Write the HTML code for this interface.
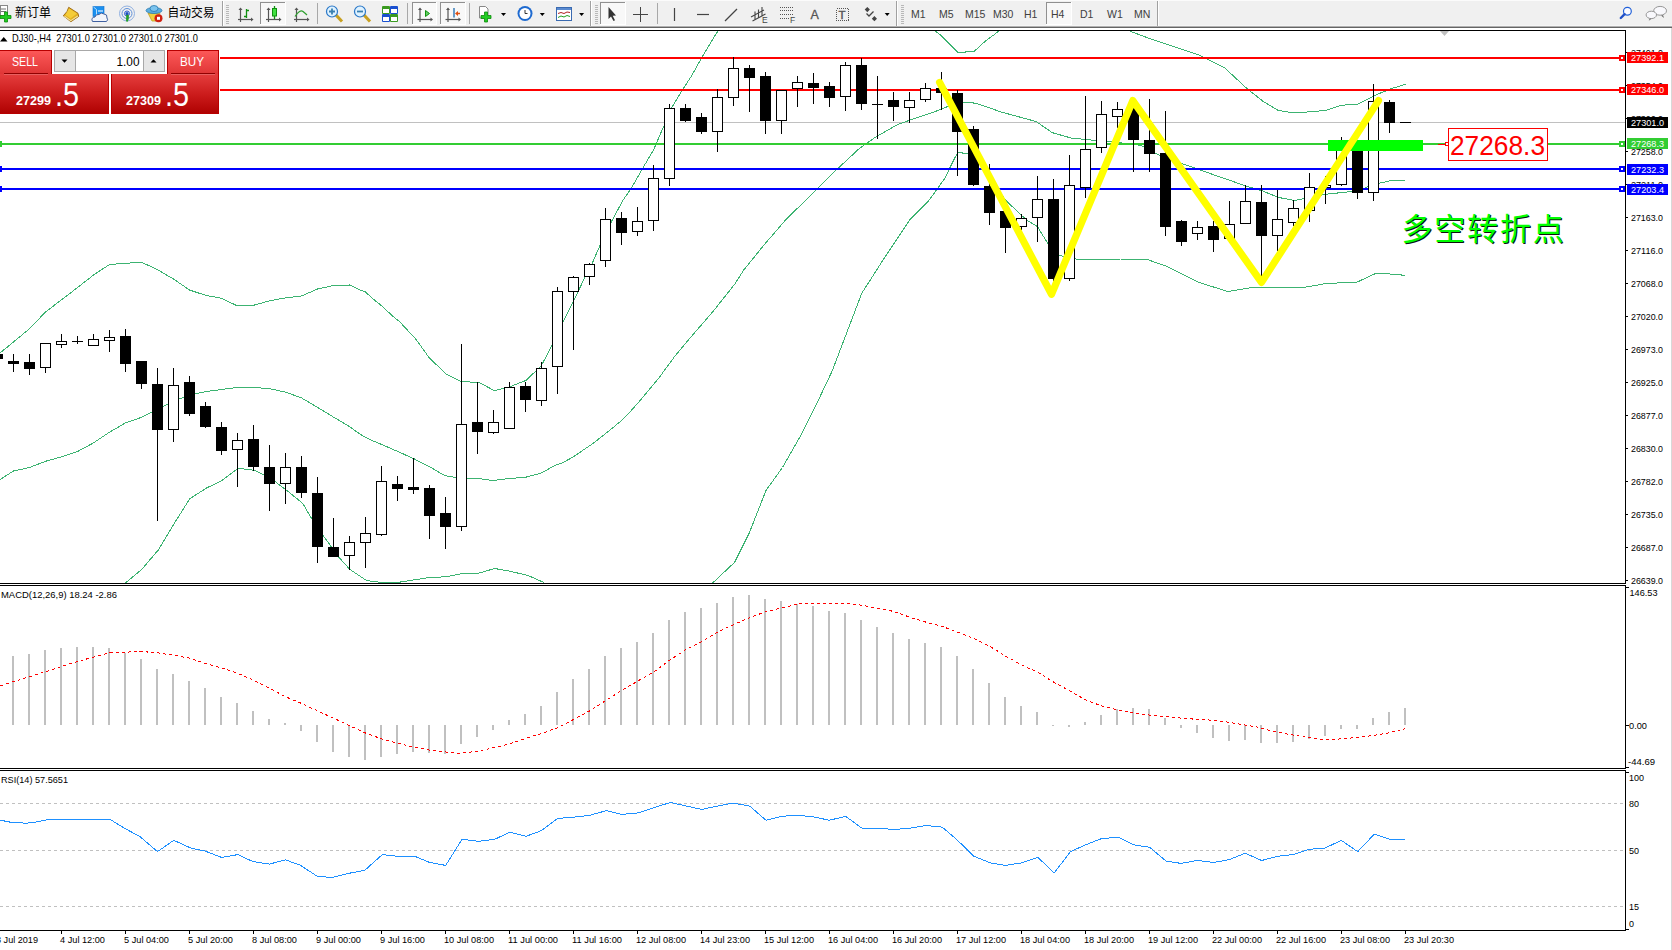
<!DOCTYPE html>
<html><head><meta charset="utf-8"><title>DJ30-,H4</title>
<style>html,body{margin:0;padding:0;background:#fff;}body{width:1672px;height:950px;overflow:hidden;position:relative;}svg{display:block;position:absolute;left:0;top:0;}text{font-family:"Liberation Sans", Arial, sans-serif;}</style>
</head><body>
<svg width="1672" height="950" viewBox="0 0 1672 950">
<defs><clipPath id="cmain"><rect x="0" y="31" width="1625" height="552"/></clipPath><clipPath id="cmacd"><rect x="0" y="586" width="1625" height="182"/></clipPath><clipPath id="crsi"><rect x="0" y="771" width="1625" height="159"/></clipPath><linearGradient id="gTop" gradientUnits="userSpaceOnUse" x1="0" y1="51" x2="0" y2="74"><stop offset="0" stop-color="#fc5858"/><stop offset="1" stop-color="#e03636"/></linearGradient><linearGradient id="gBot" gradientUnits="userSpaceOnUse" x1="0" y1="75" x2="0" y2="113"><stop offset="0" stop-color="#e43c3c"/><stop offset="0.5" stop-color="#cc1c1c"/><stop offset="1" stop-color="#b00202"/></linearGradient><linearGradient id="gBtn" x1="0" y1="0" x2="0" y2="1"><stop offset="0" stop-color="#f4f4f4"/><stop offset="1" stop-color="#dcdcdc"/></linearGradient></defs>
<rect x="0" y="0" width="1672" height="950" fill="#ffffff"/>
<g shape-rendering="crispEdges">
<path d="M0 30.5H1625.5V583.5H0" fill="none" stroke="#000" stroke-width="1"/>
<path d="M0 585.5H1625.5V768.5H0" fill="none" stroke="#000" stroke-width="1"/>
<path d="M0 770.5H1625.5V930.5H0" fill="none" stroke="#000" stroke-width="1"/>
<rect x="1671" y="27" width="1" height="923" fill="#d8d8d8"/>
</g>
<g clip-path="url(#cmain)">
<rect x="0" y="122" width="1625" height="1" fill="#c0c0c0" shape-rendering="crispEdges"/>
<polyline points="-2.5,355.0 13.5,342.0 29.5,328.7 45.5,312.0 61.5,299.8 77.5,287.6 93.5,275.0 109.5,264.5 125.5,263.3 141.5,262.2 157.5,269.7 173.5,279.0 189.5,290.0 205.5,295.3 221.5,298.2 237.5,306.0 253.5,305.3 269.5,300.8 285.5,297.9 301.5,296.0 317.5,289.0 333.5,285.5 349.5,285.0 360.5,290.1 365.5,292.0 373.1,299.0 379.5,304.0 385.8,309.7 393.3,316.6 399.7,321.7 406.0,328.6 415.5,338.7 422.4,348.2 428.7,357.1 436.3,364.6 446.4,374.1 461.5,381.7 478.6,382.3 494.4,390.6 509.6,386.8 526.0,380.4 541.2,365.9 552.5,344.4 563.9,320.4 574.2,299.5 585.2,276.8 592.1,263.7 600.5,244.2 611.5,221.6 623.1,200.0 631.5,188.0 642.9,168.0 653.7,149.5 664.4,124.8 672.0,107.1 682.7,89.4 691.0,76.8 701.7,57.8 709.9,43.9 718.1,30.6 722.5,23.0" fill="none" stroke="#3cb371" stroke-width="1" shape-rendering="crispEdges"/>
<polyline points="925.5,22.0 934.9,30.7 939.6,34.3 957.6,52.2 965.4,52.2 966.0,51.3 974.3,51.3 978.5,47.4 986.3,40.3 991.7,36.4 994.7,34.3 998.8,31.0 1004.5,24.0" fill="none" stroke="#3cb371" stroke-width="1" shape-rendering="crispEdges"/>
<polyline points="1122.5,24.0 1131.0,31.6 1152.1,39.5 1171.0,45.8 1199.5,55.3 1224.7,67.9 1246.8,88.4 1262.6,101.0 1278.4,110.5 1294.2,113.0 1325.8,110.5 1341.5,105.2 1357.3,104.2 1376.3,94.7 1392.1,88.4 1405.5,84.3" fill="none" stroke="#3cb371" stroke-width="1" shape-rendering="crispEdges"/>
<polyline points="-2.5,481.2 13.5,471.0 29.5,467.5 45.5,461.3 61.5,456.8 77.5,451.5 93.5,442.9 109.5,432.2 125.5,422.9 141.5,417.3 157.5,409.3 173.5,401.0 189.5,395.3 205.5,391.6 221.5,389.5 237.5,387.4 253.5,387.4 269.5,388.7 285.5,392.1 301.5,397.9 317.5,407.4 333.5,417.1 348.8,426.2 362.5,435.8 372.1,440.6 381.8,444.5 399.6,452.3 413.4,458.5 428.5,466.1 445.0,475.7 456.0,477.5 478.0,478.5 493.2,480.5 505.6,478.9 526.2,477.1 541.3,473.0 555.1,465.4 561.2,463.4 572.3,457.5 582.6,450.5 592.9,443.5 604.7,434.3 614.3,426.5 622.6,419.6 630.1,411.8 640.7,399.8 659.2,377.5 674.4,356.8 688.3,340.0 712.6,312.0 734.7,284.2 743.9,269.8 764.4,244.5 786.3,219.2 800.5,205.3 818.4,187.9 837.3,169.0 859.4,148.4 875.2,137.4 897.3,124.7 916.3,117.8 935.2,111.5 951.0,105.2 963.7,102.0 976.3,103.3 1001.5,112.1 1036.3,121.6 1052.1,132.6 1071.0,138.0 1096.3,140.5 1115.2,142.1 1140.5,145.3 1158.4,154.7 1183.7,164.2 1215.2,175.3 1246.8,186.3 1262.6,191.0 1278.4,197.4 1294.2,200.5 1310.0,197.4 1325.8,194.2 1341.5,192.6 1357.3,191.0 1373.1,184.7 1388.9,181.0 1405.5,180.0" fill="none" stroke="#3cb371" stroke-width="1" shape-rendering="crispEdges"/>
<polyline points="120.5,590.0 125.5,583.0 141.8,569.3 158.3,550.0 174.8,522.5 189.9,498.6 206.4,488.1 221.5,480.7 238.1,468.3 254.5,470.3 271.1,478.5 287.5,491.0 302.7,503.3 312.3,519.8 324.7,537.7 338.9,557.3 349.9,569.5 365.7,579.9 370.6,581.1 378.4,582.1 399.9,582.1 409.7,580.5 420.5,579.0 428.5,577.5 446.4,576.8 464.3,573.2 478.6,573.2 494.7,568.5 510.8,571.4 528.7,575.7 543.0,582.1 548.5,590.0" fill="none" stroke="#3cb371" stroke-width="1" shape-rendering="crispEdges"/>
<polyline points="705.5,590.0 713.3,582.4 734.7,562.2 749.4,532.7 766.0,490.4 782.5,467.5 801.0,435.1 817.5,402.0 832.3,370.7 847.0,332.0 861.7,293.4 884.7,257.4 910.0,219.5 928.9,200.5 944.7,178.4 955.5,156.4 958.5,152.4 962.1,152.4 962.9,153.5 973.5,153.5 989.5,178.4 1006.4,201.0 1021.5,215.3 1028.3,221.2 1037.5,226.6 1048.5,244.7 1059.4,255.3 1064.5,256.5 1075.5,259.0 1096.3,259.9 1120.5,259.0 1145.8,259.0 1167.9,266.8 1199.5,282.6 1227.9,291.5 1253.1,287.4 1278.4,287.4 1303.7,287.4 1325.8,283.6 1357.3,282.0 1376.3,273.2 1392.1,274.1 1405.5,275.4" fill="none" stroke="#3cb371" stroke-width="1" shape-rendering="crispEdges"/>
<g shape-rendering="crispEdges">
<rect x="0" y="57" width="1620" height="2" fill="#ff0000"/>
<rect x="0" y="55" width="2" height="6" fill="#ff0000"/>
<rect x="1619" y="55" width="6" height="6" fill="#ff0000"/><rect x="1621" y="57" width="2" height="2" fill="#fff"/>
<rect x="0" y="89" width="1620" height="2" fill="#ff0000"/>
<rect x="0" y="87" width="2" height="6" fill="#ff0000"/>
<rect x="1619" y="87" width="6" height="6" fill="#ff0000"/><rect x="1621" y="89" width="2" height="2" fill="#fff"/>
<rect x="0" y="143" width="1620" height="2" fill="#32cd32"/>
<rect x="0" y="141" width="2" height="6" fill="#32cd32"/>
<rect x="1619" y="141" width="6" height="6" fill="#32cd32"/><rect x="1621" y="143" width="2" height="2" fill="#fff"/>
<rect x="0" y="168" width="1620" height="2" fill="#0000ff"/>
<rect x="0" y="166" width="2" height="6" fill="#0000ff"/>
<rect x="1619" y="166" width="6" height="6" fill="#0000ff"/><rect x="1621" y="168" width="2" height="2" fill="#fff"/>
<rect x="0" y="188" width="1620" height="2" fill="#0000ff"/>
<rect x="0" y="186" width="2" height="6" fill="#0000ff"/>
<rect x="1619" y="186" width="6" height="6" fill="#0000ff"/><rect x="1621" y="188" width="2" height="2" fill="#fff"/>
</g>
<g shape-rendering="crispEdges" fill="#000">
<rect x="-3" y="350" width="1" height="13"/>
<rect x="-8" y="354" width="11" height="5"/>
<rect x="13" y="354" width="1" height="18"/>
<rect x="8" y="361" width="11" height="3"/>
<rect x="29" y="354" width="1" height="21"/>
<rect x="24" y="362" width="11" height="7"/>
<rect x="45" y="343" width="1" height="30"/>
<rect x="40" y="343" width="11" height="25"/>
<rect x="41" y="344" width="9" height="23" fill="#fff"/>
<rect x="61" y="334" width="1" height="14"/>
<rect x="56" y="341" width="11" height="4"/>
<rect x="57" y="342" width="9" height="2" fill="#fff"/>
<rect x="77" y="336" width="1" height="8"/>
<rect x="72" y="341" width="11" height="1"/>
<rect x="93" y="334" width="1" height="12"/>
<rect x="88" y="339" width="11" height="7"/>
<rect x="89" y="340" width="9" height="5" fill="#fff"/>
<rect x="109" y="330" width="1" height="22"/>
<rect x="104" y="337" width="11" height="4"/>
<rect x="105" y="338" width="9" height="2" fill="#fff"/>
<rect x="125" y="329" width="1" height="43"/>
<rect x="120" y="336" width="11" height="28"/>
<rect x="141" y="361" width="1" height="28"/>
<rect x="136" y="361" width="11" height="23"/>
<rect x="157" y="368" width="1" height="153"/>
<rect x="152" y="384" width="11" height="46"/>
<rect x="173" y="368" width="1" height="74"/>
<rect x="168" y="385" width="11" height="45"/>
<rect x="169" y="386" width="9" height="43" fill="#fff"/>
<rect x="189" y="376" width="1" height="40"/>
<rect x="184" y="382" width="11" height="32"/>
<rect x="205" y="402" width="1" height="26"/>
<rect x="200" y="406" width="11" height="21"/>
<rect x="221" y="422" width="1" height="33"/>
<rect x="216" y="427" width="11" height="24"/>
<rect x="237" y="433" width="1" height="54"/>
<rect x="232" y="440" width="11" height="10"/>
<rect x="233" y="441" width="9" height="8" fill="#fff"/>
<rect x="253" y="425" width="1" height="46"/>
<rect x="248" y="439" width="11" height="28"/>
<rect x="269" y="445" width="1" height="66"/>
<rect x="264" y="467" width="11" height="17"/>
<rect x="285" y="453" width="1" height="51"/>
<rect x="280" y="467" width="11" height="17"/>
<rect x="281" y="468" width="9" height="15" fill="#fff"/>
<rect x="301" y="456" width="1" height="42"/>
<rect x="296" y="467" width="11" height="26"/>
<rect x="317" y="477" width="1" height="86"/>
<rect x="312" y="493" width="11" height="54"/>
<rect x="333" y="518" width="1" height="39"/>
<rect x="328" y="547" width="11" height="10"/>
<rect x="349" y="536" width="1" height="34"/>
<rect x="344" y="542" width="11" height="14"/>
<rect x="345" y="543" width="9" height="12" fill="#fff"/>
<rect x="365" y="517" width="1" height="51"/>
<rect x="360" y="533" width="11" height="10"/>
<rect x="361" y="534" width="9" height="8" fill="#fff"/>
<rect x="381" y="466" width="1" height="70"/>
<rect x="376" y="481" width="11" height="54"/>
<rect x="377" y="482" width="9" height="52" fill="#fff"/>
<rect x="397" y="476" width="1" height="25"/>
<rect x="392" y="484" width="11" height="5"/>
<rect x="413" y="458" width="1" height="36"/>
<rect x="408" y="487" width="11" height="3"/>
<rect x="429" y="485" width="1" height="54"/>
<rect x="424" y="488" width="11" height="28"/>
<rect x="445" y="497" width="1" height="52"/>
<rect x="440" y="513" width="11" height="14"/>
<rect x="461" y="344" width="1" height="187"/>
<rect x="456" y="424" width="11" height="103"/>
<rect x="457" y="425" width="9" height="101" fill="#fff"/>
<rect x="477" y="382" width="1" height="72"/>
<rect x="472" y="422" width="11" height="10"/>
<rect x="493" y="410" width="1" height="24"/>
<rect x="488" y="422" width="11" height="11"/>
<rect x="489" y="423" width="9" height="9" fill="#fff"/>
<rect x="509" y="382" width="1" height="47"/>
<rect x="504" y="387" width="11" height="42"/>
<rect x="505" y="388" width="9" height="40" fill="#fff"/>
<rect x="525" y="382" width="1" height="30"/>
<rect x="520" y="386" width="11" height="14"/>
<rect x="541" y="362" width="1" height="44"/>
<rect x="536" y="368" width="11" height="33"/>
<rect x="537" y="369" width="9" height="31" fill="#fff"/>
<rect x="557" y="287" width="1" height="107"/>
<rect x="552" y="291" width="11" height="76"/>
<rect x="553" y="292" width="9" height="74" fill="#fff"/>
<rect x="573" y="276" width="1" height="74"/>
<rect x="568" y="277" width="11" height="15"/>
<rect x="569" y="278" width="9" height="13" fill="#fff"/>
<rect x="589" y="263" width="1" height="22"/>
<rect x="584" y="264" width="11" height="13"/>
<rect x="585" y="265" width="9" height="11" fill="#fff"/>
<rect x="605" y="208" width="1" height="59"/>
<rect x="600" y="219" width="11" height="42"/>
<rect x="601" y="220" width="9" height="40" fill="#fff"/>
<rect x="621" y="212" width="1" height="33"/>
<rect x="616" y="218" width="11" height="15"/>
<rect x="637" y="207" width="1" height="29"/>
<rect x="632" y="221" width="11" height="11"/>
<rect x="633" y="222" width="9" height="9" fill="#fff"/>
<rect x="653" y="165" width="1" height="66"/>
<rect x="648" y="178" width="11" height="43"/>
<rect x="649" y="179" width="9" height="41" fill="#fff"/>
<rect x="669" y="104" width="1" height="82"/>
<rect x="664" y="108" width="11" height="71"/>
<rect x="665" y="109" width="9" height="69" fill="#fff"/>
<rect x="685" y="104" width="1" height="18"/>
<rect x="680" y="108" width="11" height="13"/>
<rect x="701" y="113" width="1" height="21"/>
<rect x="696" y="117" width="11" height="15"/>
<rect x="717" y="89" width="1" height="63"/>
<rect x="712" y="97" width="11" height="35"/>
<rect x="713" y="98" width="9" height="33" fill="#fff"/>
<rect x="733" y="57" width="1" height="49"/>
<rect x="728" y="68" width="11" height="30"/>
<rect x="729" y="69" width="9" height="28" fill="#fff"/>
<rect x="749" y="65" width="1" height="47"/>
<rect x="744" y="68" width="11" height="10"/>
<rect x="765" y="72" width="1" height="62"/>
<rect x="760" y="76" width="11" height="45"/>
<rect x="781" y="90" width="1" height="44"/>
<rect x="776" y="90" width="11" height="31"/>
<rect x="777" y="91" width="9" height="29" fill="#fff"/>
<rect x="797" y="76" width="1" height="31"/>
<rect x="792" y="82" width="11" height="7"/>
<rect x="793" y="83" width="9" height="5" fill="#fff"/>
<rect x="813" y="73" width="1" height="31"/>
<rect x="808" y="83" width="11" height="5"/>
<rect x="829" y="82" width="1" height="25"/>
<rect x="824" y="86" width="11" height="12"/>
<rect x="845" y="62" width="1" height="49"/>
<rect x="840" y="65" width="11" height="32"/>
<rect x="841" y="66" width="9" height="30" fill="#fff"/>
<rect x="861" y="58" width="1" height="52"/>
<rect x="856" y="65" width="11" height="39"/>
<rect x="877" y="76" width="1" height="63"/>
<rect x="872" y="104" width="11" height="1"/>
<rect x="893" y="92" width="1" height="29"/>
<rect x="888" y="100" width="11" height="7"/>
<rect x="909" y="92" width="1" height="31"/>
<rect x="904" y="100" width="11" height="8"/>
<rect x="905" y="101" width="9" height="6" fill="#fff"/>
<rect x="925" y="83" width="1" height="19"/>
<rect x="920" y="88" width="11" height="12"/>
<rect x="921" y="89" width="9" height="10" fill="#fff"/>
<rect x="941" y="72" width="1" height="38"/>
<rect x="936" y="88" width="11" height="5"/>
<rect x="957" y="90" width="1" height="86"/>
<rect x="952" y="93" width="11" height="39"/>
<rect x="973" y="126" width="1" height="60"/>
<rect x="968" y="129" width="11" height="56"/>
<rect x="989" y="164" width="1" height="61"/>
<rect x="984" y="186" width="11" height="27"/>
<rect x="1005" y="211" width="1" height="42"/>
<rect x="1000" y="211" width="11" height="17"/>
<rect x="1021" y="214" width="1" height="16"/>
<rect x="1016" y="218" width="11" height="9"/>
<rect x="1017" y="219" width="9" height="7" fill="#fff"/>
<rect x="1037" y="176" width="1" height="66"/>
<rect x="1032" y="199" width="11" height="19"/>
<rect x="1033" y="200" width="9" height="17" fill="#fff"/>
<rect x="1053" y="179" width="1" height="102"/>
<rect x="1048" y="199" width="11" height="80"/>
<rect x="1069" y="155" width="1" height="126"/>
<rect x="1064" y="185" width="11" height="94"/>
<rect x="1065" y="186" width="9" height="92" fill="#fff"/>
<rect x="1085" y="96" width="1" height="102"/>
<rect x="1080" y="149" width="11" height="39"/>
<rect x="1081" y="150" width="9" height="37" fill="#fff"/>
<rect x="1101" y="101" width="1" height="52"/>
<rect x="1096" y="114" width="11" height="34"/>
<rect x="1097" y="115" width="9" height="32" fill="#fff"/>
<rect x="1117" y="102" width="1" height="26"/>
<rect x="1112" y="109" width="11" height="8"/>
<rect x="1113" y="110" width="9" height="6" fill="#fff"/>
<rect x="1133" y="100" width="1" height="72"/>
<rect x="1128" y="108" width="11" height="32"/>
<rect x="1149" y="99" width="1" height="73"/>
<rect x="1144" y="140" width="11" height="14"/>
<rect x="1165" y="111" width="1" height="125"/>
<rect x="1160" y="153" width="11" height="74"/>
<rect x="1181" y="220" width="1" height="26"/>
<rect x="1176" y="221" width="11" height="21"/>
<rect x="1197" y="221" width="1" height="19"/>
<rect x="1192" y="227" width="11" height="7"/>
<rect x="1193" y="228" width="9" height="5" fill="#fff"/>
<rect x="1213" y="221" width="1" height="31"/>
<rect x="1208" y="226" width="11" height="14"/>
<rect x="1229" y="201" width="1" height="42"/>
<rect x="1224" y="224" width="11" height="15"/>
<rect x="1225" y="225" width="9" height="13" fill="#fff"/>
<rect x="1245" y="185" width="1" height="39"/>
<rect x="1240" y="201" width="11" height="23"/>
<rect x="1241" y="202" width="9" height="21" fill="#fff"/>
<rect x="1261" y="185" width="1" height="91"/>
<rect x="1256" y="202" width="11" height="34"/>
<rect x="1277" y="190" width="1" height="61"/>
<rect x="1272" y="219" width="11" height="17"/>
<rect x="1273" y="220" width="9" height="15" fill="#fff"/>
<rect x="1293" y="200" width="1" height="26"/>
<rect x="1288" y="208" width="11" height="15"/>
<rect x="1289" y="209" width="9" height="13" fill="#fff"/>
<rect x="1309" y="173" width="1" height="49"/>
<rect x="1304" y="187" width="11" height="24"/>
<rect x="1305" y="188" width="9" height="22" fill="#fff"/>
<rect x="1325" y="176" width="1" height="28"/>
<rect x="1320" y="185" width="11" height="3"/>
<rect x="1321" y="186" width="9" height="1" fill="#fff"/>
<rect x="1341" y="137" width="1" height="49"/>
<rect x="1336" y="147" width="11" height="38"/>
<rect x="1337" y="148" width="9" height="36" fill="#fff"/>
<rect x="1357" y="143" width="1" height="56"/>
<rect x="1352" y="145" width="11" height="48"/>
<rect x="1373" y="84" width="1" height="117"/>
<rect x="1368" y="101" width="11" height="92"/>
<rect x="1369" y="102" width="9" height="90" fill="#fff"/>
<rect x="1389" y="100" width="1" height="33"/>
<rect x="1384" y="102" width="11" height="21"/>
<rect x="1400" y="122" width="11" height="1"/>
</g>
<rect x="1328" y="140" width="95" height="11" fill="#00ff00" shape-rendering="crispEdges"/>
<polyline points="939.6,82.4 1051.5,294.3 1132.8,100.6 1261.5,282.4 1378.5,100.6" fill="none" stroke="#ffff00" stroke-width="7.2" stroke-linejoin="round" stroke-linecap="round"/>
<g shape-rendering="crispEdges"><rect x="1438" y="144" width="8" height="1" fill="#ff0000"/><rect x="1445" y="142" width="4" height="4" fill="#ff0000"/><rect x="1446" y="143" width="2" height="2" fill="#fff"/><rect x="1448.5" y="128.5" width="99" height="32" fill="#fff" stroke="#ff0000" stroke-width="1"/></g>
<text x="1450" y="155" font-size="28" fill="#ff0000" textLength="95" lengthAdjust="spacingAndGlyphs">27268.3</text>
<text x="1402.5" y="241" font-size="31" letter-spacing="1.8" font-weight="400" fill="#101010" style="font-family:'Liberation Sans','Noto Sans CJK SC',sans-serif">多空转折点</text>
<text x="1401.5" y="240" font-size="31" letter-spacing="1.8" font-weight="400" fill="#00ff00" style="font-family:'Liberation Sans','Noto Sans CJK SC',sans-serif">多空转折点</text>
</g>
<path d="M1440 31 H1449 L1444.5 36 Z" fill="#c0c0c0"/>
<path d="M0 41.5 L3.75 37 L7.5 41.5Z" fill="#000"/>
<text x="12" y="42" font-size="10.5" fill="#000" textLength="186" lengthAdjust="spacingAndGlyphs">DJ30-,H4&#160;&#160;27301.0 27301.0 27301.0 27301.0</text>
<g shape-rendering="crispEdges">
<rect x="0" y="49" width="220" height="66" fill="#fff"/>
<path d="M0 50H52V74H109V114H0Z" fill="#b80000"/>
<rect x="0" y="51" width="51" height="23" fill="url(#gTop)"/>
<path d="M167 50H219V114H111V74H167Z" fill="#b80000"/>
<rect x="168" y="51" width="50" height="23" fill="url(#gTop)"/>
<rect x="0" y="74" width="108" height="39" fill="url(#gBot)"/>
<rect x="112" y="74" width="106" height="39" fill="url(#gBot)"/>
<rect x="1" y="51" width="50" height="23" fill="url(#gTop)"/>
<rect x="168" y="51" width="50" height="23" fill="url(#gTop)"/>
<rect x="4" y="73" width="44" height="1" fill="#900000"/><rect x="4" y="74" width="44" height="1" fill="#e86060"/>
<rect x="171" y="73" width="44" height="1" fill="#900000"/><rect x="171" y="74" width="44" height="1" fill="#e86060"/>
<rect x="54" y="50" width="111" height="22" fill="#a8a8a8"/>
<rect x="55" y="51" width="20" height="20" fill="#e6e6e6"/>
<rect x="76" y="51" width="67" height="20" fill="#fff"/>
<rect x="144" y="51" width="20" height="20" fill="#e6e6e6"/>
</g>
<path d="M61.5 59.5h6l-3 3.2z" fill="#000"/>
<path d="M150.5 62.5h6l-3 -3.2z" fill="#000"/>
<text x="139.5" y="65.5" font-size="13" fill="#000" text-anchor="end" textLength="23" lengthAdjust="spacingAndGlyphs">1.00</text>
<text x="12" y="66" font-size="13" fill="#fff" textLength="26" lengthAdjust="spacingAndGlyphs">SELL</text>
<text x="180" y="66" font-size="13" fill="#fff" textLength="24" lengthAdjust="spacingAndGlyphs">BUY</text>
<text x="16" y="105" font-size="13" font-weight="bold" fill="#fff" textLength="35" lengthAdjust="spacingAndGlyphs">27299</text>
<text x="55" y="105.5" font-size="33" fill="#fff" textLength="24" lengthAdjust="spacingAndGlyphs">.5</text>
<text x="126" y="105" font-size="13" font-weight="bold" fill="#fff" textLength="35" lengthAdjust="spacingAndGlyphs">27309</text>
<text x="165" y="105.5" font-size="33" fill="#fff" textLength="24" lengthAdjust="spacingAndGlyphs">.5</text>
<g shape-rendering="crispEdges">
<rect x="1626" y="52" width="2" height="1" fill="#000"/>
<rect x="1626" y="85" width="2" height="1" fill="#000"/>
<rect x="1626" y="118" width="2" height="1" fill="#000"/>
<rect x="1626" y="151" width="2" height="1" fill="#000"/>
<rect x="1626" y="184" width="2" height="1" fill="#000"/>
<rect x="1626" y="217" width="2" height="1" fill="#000"/>
<rect x="1626" y="250" width="2" height="1" fill="#000"/>
<rect x="1626" y="283" width="2" height="1" fill="#000"/>
<rect x="1626" y="316" width="2" height="1" fill="#000"/>
<rect x="1626" y="349" width="2" height="1" fill="#000"/>
<rect x="1626" y="382" width="2" height="1" fill="#000"/>
<rect x="1626" y="415" width="2" height="1" fill="#000"/>
<rect x="1626" y="448" width="2" height="1" fill="#000"/>
<rect x="1626" y="481" width="2" height="1" fill="#000"/>
<rect x="1626" y="514" width="2" height="1" fill="#000"/>
<rect x="1626" y="547" width="2" height="1" fill="#000"/>
<rect x="1626" y="580" width="2" height="1" fill="#000"/>
</g>
<text x="1631" y="56.0" font-size="9.6" fill="#000" textLength="32" lengthAdjust="spacingAndGlyphs">27401.0</text>
<text x="1631" y="89.0" font-size="9.6" fill="#000" textLength="32" lengthAdjust="spacingAndGlyphs">27354.0</text>
<text x="1631" y="122.0" font-size="9.6" fill="#000" textLength="32" lengthAdjust="spacingAndGlyphs">27306.0</text>
<text x="1631" y="155.0" font-size="9.6" fill="#000" textLength="32" lengthAdjust="spacingAndGlyphs">27258.0</text>
<text x="1631" y="188.0" font-size="9.6" fill="#000" textLength="32" lengthAdjust="spacingAndGlyphs">27211.0</text>
<text x="1631" y="221.0" font-size="9.6" fill="#000" textLength="32" lengthAdjust="spacingAndGlyphs">27163.0</text>
<text x="1631" y="254.0" font-size="9.6" fill="#000" textLength="32" lengthAdjust="spacingAndGlyphs">27116.0</text>
<text x="1631" y="287.0" font-size="9.6" fill="#000" textLength="32" lengthAdjust="spacingAndGlyphs">27068.0</text>
<text x="1631" y="320.0" font-size="9.6" fill="#000" textLength="32" lengthAdjust="spacingAndGlyphs">27020.0</text>
<text x="1631" y="353.0" font-size="9.6" fill="#000" textLength="32" lengthAdjust="spacingAndGlyphs">26973.0</text>
<text x="1631" y="386.0" font-size="9.6" fill="#000" textLength="32" lengthAdjust="spacingAndGlyphs">26925.0</text>
<text x="1631" y="419.0" font-size="9.6" fill="#000" textLength="32" lengthAdjust="spacingAndGlyphs">26877.0</text>
<text x="1631" y="452.0" font-size="9.6" fill="#000" textLength="32" lengthAdjust="spacingAndGlyphs">26830.0</text>
<text x="1631" y="485.0" font-size="9.6" fill="#000" textLength="32" lengthAdjust="spacingAndGlyphs">26782.0</text>
<text x="1631" y="518.0" font-size="9.6" fill="#000" textLength="32" lengthAdjust="spacingAndGlyphs">26735.0</text>
<text x="1631" y="551.0" font-size="9.6" fill="#000" textLength="32" lengthAdjust="spacingAndGlyphs">26687.0</text>
<text x="1631" y="584.0" font-size="9.6" fill="#000" textLength="32" lengthAdjust="spacingAndGlyphs">26639.0</text>
<rect x="1627" y="52" width="41" height="11" fill="#ff0000" shape-rendering="crispEdges"/>
<text x="1631" y="61.2" font-size="9.6" fill="#fff" textLength="33" lengthAdjust="spacingAndGlyphs">27392.1</text>
<rect x="1627" y="84" width="41" height="11" fill="#ff0000" shape-rendering="crispEdges"/>
<text x="1631" y="93.2" font-size="9.6" fill="#fff" textLength="33" lengthAdjust="spacingAndGlyphs">27346.0</text>
<rect x="1627" y="117" width="41" height="11" fill="#000000" shape-rendering="crispEdges"/>
<text x="1631" y="126.2" font-size="9.6" fill="#fff" textLength="33" lengthAdjust="spacingAndGlyphs">27301.0</text>
<rect x="1627" y="138" width="41" height="11" fill="#32cd32" shape-rendering="crispEdges"/>
<text x="1631" y="147.2" font-size="9.6" fill="#fff" textLength="33" lengthAdjust="spacingAndGlyphs">27268.3</text>
<rect x="1627" y="164" width="41" height="11" fill="#0000ff" shape-rendering="crispEdges"/>
<text x="1631" y="173.2" font-size="9.6" fill="#fff" textLength="33" lengthAdjust="spacingAndGlyphs">27232.3</text>
<rect x="1627" y="184" width="41" height="11" fill="#0000ff" shape-rendering="crispEdges"/>
<text x="1631" y="193.2" font-size="9.6" fill="#fff" textLength="33" lengthAdjust="spacingAndGlyphs">27203.4</text>
<g clip-path="url(#cmacd)">
<g shape-rendering="crispEdges" fill="#c0c0c0">
<rect x="12" y="656" width="2" height="69"/>
<rect x="28" y="654" width="2" height="71"/>
<rect x="44" y="650" width="2" height="75"/>
<rect x="60" y="648" width="2" height="77"/>
<rect x="76" y="647" width="2" height="78"/>
<rect x="92" y="647" width="2" height="78"/>
<rect x="108" y="648" width="2" height="77"/>
<rect x="124" y="653" width="2" height="72"/>
<rect x="140" y="659" width="2" height="66"/>
<rect x="156" y="669" width="2" height="56"/>
<rect x="172" y="674" width="2" height="51"/>
<rect x="188" y="681" width="2" height="44"/>
<rect x="204" y="688" width="2" height="37"/>
<rect x="220" y="697" width="2" height="28"/>
<rect x="236" y="703" width="2" height="22"/>
<rect x="252" y="711" width="2" height="14"/>
<rect x="268" y="719" width="2" height="6"/>
<rect x="284" y="723" width="2" height="2"/>
<rect x="300" y="725" width="2" height="6"/>
<rect x="316" y="725" width="2" height="17"/>
<rect x="332" y="725" width="2" height="27"/>
<rect x="348" y="725" width="2" height="32"/>
<rect x="364" y="725" width="2" height="35"/>
<rect x="380" y="725" width="2" height="32"/>
<rect x="396" y="725" width="2" height="29"/>
<rect x="412" y="725" width="2" height="27"/>
<rect x="428" y="725" width="2" height="28"/>
<rect x="444" y="725" width="2" height="29"/>
<rect x="460" y="725" width="2" height="19"/>
<rect x="476" y="725" width="2" height="12"/>
<rect x="492" y="725" width="2" height="5"/>
<rect x="508" y="720" width="2" height="5"/>
<rect x="524" y="714" width="2" height="11"/>
<rect x="540" y="706" width="2" height="19"/>
<rect x="556" y="692" width="2" height="33"/>
<rect x="572" y="679" width="2" height="46"/>
<rect x="588" y="669" width="2" height="56"/>
<rect x="604" y="656" width="2" height="69"/>
<rect x="620" y="648" width="2" height="77"/>
<rect x="636" y="642" width="2" height="83"/>
<rect x="652" y="633" width="2" height="92"/>
<rect x="668" y="620" width="2" height="105"/>
<rect x="684" y="612" width="2" height="113"/>
<rect x="700" y="608" width="2" height="117"/>
<rect x="716" y="603" width="2" height="122"/>
<rect x="732" y="597" width="2" height="128"/>
<rect x="748" y="595" width="2" height="130"/>
<rect x="764" y="599" width="2" height="126"/>
<rect x="780" y="601" width="2" height="124"/>
<rect x="796" y="604" width="2" height="121"/>
<rect x="812" y="606" width="2" height="119"/>
<rect x="828" y="611" width="2" height="114"/>
<rect x="844" y="613" width="2" height="112"/>
<rect x="860" y="620" width="2" height="105"/>
<rect x="876" y="627" width="2" height="98"/>
<rect x="892" y="633" width="2" height="92"/>
<rect x="908" y="639" width="2" height="86"/>
<rect x="924" y="643" width="2" height="82"/>
<rect x="940" y="647" width="2" height="78"/>
<rect x="956" y="656" width="2" height="69"/>
<rect x="972" y="669" width="2" height="56"/>
<rect x="988" y="683" width="2" height="42"/>
<rect x="1004" y="697" width="2" height="28"/>
<rect x="1020" y="706" width="2" height="19"/>
<rect x="1036" y="712" width="2" height="13"/>
<rect x="1052" y="725" width="2" height="1"/>
<rect x="1068" y="725" width="2" height="2"/>
<rect x="1084" y="722" width="2" height="3"/>
<rect x="1100" y="715" width="2" height="10"/>
<rect x="1116" y="709" width="2" height="16"/>
<rect x="1132" y="708" width="2" height="17"/>
<rect x="1148" y="709" width="2" height="16"/>
<rect x="1164" y="718" width="2" height="7"/>
<rect x="1180" y="725" width="2" height="3"/>
<rect x="1196" y="725" width="2" height="8"/>
<rect x="1212" y="725" width="2" height="13"/>
<rect x="1228" y="725" width="2" height="16"/>
<rect x="1244" y="725" width="2" height="15"/>
<rect x="1260" y="725" width="2" height="18"/>
<rect x="1276" y="725" width="2" height="18"/>
<rect x="1292" y="725" width="2" height="17"/>
<rect x="1308" y="725" width="2" height="14"/>
<rect x="1324" y="725" width="2" height="11"/>
<rect x="1340" y="725" width="2" height="4"/>
<rect x="1356" y="725" width="2" height="4"/>
<rect x="1372" y="718" width="2" height="7"/>
<rect x="1388" y="712" width="2" height="13"/>
<rect x="1404" y="708" width="2" height="17"/>
</g>
<polyline points="0.5,686.0 13.1,681.7 29.4,676.7 45.7,671.7 60.8,666.6 77.1,661.6 93.4,657.1 109.8,652.8 126.1,652.1 142.4,651.6 157.5,652.8 173.8,655.3 190.2,658.3 205.2,663.4 221.5,667.9 237.9,673.4 254.2,680.5 269.3,688.0 285.6,696.8 300.7,703.1 317.0,710.6 333.3,718.1 349.7,725.7 364.7,732.7 381.1,738.7 397.4,743.2 413.1,747.0 429.4,750.0 445.7,752.0 460.8,753.3 477.1,751.3 493.4,747.8 509.8,743.8 526.1,738.2 542.4,733.2 557.5,727.7 573.8,719.4 590.2,710.6 605.2,701.0 621.5,690.5 637.9,681.0 654.2,671.7 669.3,660.4 685.6,649.8 700.7,642.3 717.0,632.2 733.3,624.7 749.7,617.7 764.7,612.1 781.1,608.1 797.4,604.1 813.1,603.3 829.4,603.3 845.7,603.3 860.8,605.1 877.1,608.1 893.4,611.4 909.8,617.2 926.1,622.2 942.4,626.4 957.5,632.2 973.8,638.3 990.2,646.5 1005.2,655.8 1021.5,664.9 1037.9,672.4 1054.2,682.5 1069.3,690.5 1085.6,700.0 1100.7,705.6 1117.0,709.8 1133.3,713.1 1149.7,715.1 1164.7,716.4 1181.1,718.1 1197.4,719.4 1216.3,720.4 1229.4,722.4 1242.6,724.7 1255.8,726.7 1265.0,729.3 1276.8,732.0 1292.6,735.0 1305.8,737.2 1318.9,739.2 1332.1,739.5 1347.9,738.3 1361.0,737.0 1374.2,735.3 1390.0,732.6 1405.5,728.7" fill="none" stroke="#ff0000" stroke-width="1" stroke-dasharray="3 3" shape-rendering="crispEdges"/>
</g>
<text x="1" y="597.5" font-size="9.6" fill="#000" textLength="116" lengthAdjust="spacingAndGlyphs">MACD(12,26,9) 18.24 -2.86</text>
<g shape-rendering="crispEdges"><rect x="1626" y="587" width="3" height="1" fill="#000"/><rect x="1626" y="725" width="3" height="1" fill="#000"/><rect x="1626" y="767" width="3" height="1" fill="#000"/></g>
<text x="1629.5" y="596" font-size="9.6" fill="#000" textLength="28" lengthAdjust="spacingAndGlyphs">146.53</text>
<text x="1629" y="729" font-size="9.6" fill="#000" textLength="18" lengthAdjust="spacingAndGlyphs">0.00</text>
<text x="1628" y="765" font-size="9.6" fill="#000" textLength="27" lengthAdjust="spacingAndGlyphs">-44.69</text>
<g clip-path="url(#crsi)">
<line x1="0" y1="803.5" x2="1625" y2="803.5" stroke="#c0c0c0" stroke-width="1" stroke-dasharray="3 3" shape-rendering="crispEdges"/>
<line x1="0" y1="850.5" x2="1625" y2="850.5" stroke="#c0c0c0" stroke-width="1" stroke-dasharray="3 3" shape-rendering="crispEdges"/>
<line x1="0" y1="906.5" x2="1625" y2="906.5" stroke="#c0c0c0" stroke-width="1" stroke-dasharray="3 3" shape-rendering="crispEdges"/>
<polyline points="0.5,820.2 10.5,822.2 25.6,823.2 33.2,822.7 44.5,820.2 54.5,819.2 109.8,819.2 124.8,828.5 139.9,836.5 157.5,851.6 173.8,840.3 191.4,848.3 205.2,851.1 221.5,857.4 237.9,854.6 252.9,861.6 269.3,864.1 285.6,859.9 300.7,865.4 317.0,876.2 332.1,877.5 348.4,873.4 364.7,870.4 382.3,854.6 396.1,856.1 414.3,856.1 429.4,862.4 445.7,865.4 462.0,839.3 478.4,841.3 494.7,839.3 509.8,832.2 526.1,836.3 541.2,830.7 557.5,818.4 573.8,817.2 590.2,815.2 606.5,810.6 621.5,814.4 637.9,812.9 654.2,807.6 670.5,802.4 685.6,805.9 701.9,809.4 718.3,805.9 733.3,803.1 749.7,806.1 766.0,820.2 781.1,816.4 797.4,815.2 813.1,816.9 829.4,820.2 845.7,816.4 862.0,828.2 878.4,828.2 893.4,829.5 909.8,828.2 926.1,825.5 942.4,827.2 957.5,840.3 973.8,856.1 990.2,862.9 1005.2,865.4 1021.5,862.9 1037.9,857.4 1054.2,872.9 1070.5,851.6 1085.6,844.8 1101.9,838.5 1118.3,837.3 1133.3,844.8 1149.7,847.3 1166.0,861.1 1181.1,863.4 1197.4,860.4 1213.7,862.5 1229.4,859.6 1245.2,853.3 1261.7,860.5 1277.5,856.3 1293.3,854.5 1309.1,849.3 1324.8,848.2 1341.3,840.3 1357.7,851.7 1374.2,834.2 1389.3,839.2 1405.1,839.2" fill="none" stroke="#1e90ff" stroke-width="1" shape-rendering="crispEdges"/>
</g>
<text x="1" y="782.5" font-size="9.6" fill="#000" textLength="67" lengthAdjust="spacingAndGlyphs">RSI(14) 57.5651</text>
<text x="1629" y="781.0" font-size="9.6" fill="#000" textLength="15" lengthAdjust="spacingAndGlyphs">100</text>
<text x="1629" y="807.0" font-size="9.6" fill="#000" textLength="10" lengthAdjust="spacingAndGlyphs">80</text>
<text x="1629" y="854.0" font-size="9.6" fill="#000" textLength="10" lengthAdjust="spacingAndGlyphs">50</text>
<text x="1629" y="910.0" font-size="9.6" fill="#000" textLength="10" lengthAdjust="spacingAndGlyphs">15</text>
<text x="1629" y="927.0" font-size="9.6" fill="#000" textLength="5" lengthAdjust="spacingAndGlyphs">0</text>
<g shape-rendering="crispEdges">
<rect x="1626" y="772" width="3" height="1" fill="#000"/>
<rect x="1626" y="929" width="3" height="1" fill="#000"/>
</g>
<g shape-rendering="crispEdges">
<rect x="61" y="931" width="1" height="3" fill="#000"/>
<rect x="125" y="931" width="1" height="3" fill="#000"/>
<rect x="189" y="931" width="1" height="3" fill="#000"/>
<rect x="253" y="931" width="1" height="3" fill="#000"/>
<rect x="317" y="931" width="1" height="3" fill="#000"/>
<rect x="381" y="931" width="1" height="3" fill="#000"/>
<rect x="445" y="931" width="1" height="3" fill="#000"/>
<rect x="509" y="931" width="1" height="3" fill="#000"/>
<rect x="573" y="931" width="1" height="3" fill="#000"/>
<rect x="637" y="931" width="1" height="3" fill="#000"/>
<rect x="701" y="931" width="1" height="3" fill="#000"/>
<rect x="765" y="931" width="1" height="3" fill="#000"/>
<rect x="829" y="931" width="1" height="3" fill="#000"/>
<rect x="893" y="931" width="1" height="3" fill="#000"/>
<rect x="957" y="931" width="1" height="3" fill="#000"/>
<rect x="1021" y="931" width="1" height="3" fill="#000"/>
<rect x="1085" y="931" width="1" height="3" fill="#000"/>
<rect x="1149" y="931" width="1" height="3" fill="#000"/>
<rect x="1213" y="931" width="1" height="3" fill="#000"/>
<rect x="1277" y="931" width="1" height="3" fill="#000"/>
<rect x="1341" y="931" width="1" height="3" fill="#000"/>
<rect x="1405" y="931" width="1" height="3" fill="#000"/>
</g>
<text x="-4" y="943" font-size="9.6" fill="#000" textLength="42" lengthAdjust="spacingAndGlyphs">3 Jul 2019</text>
<text x="60" y="943" font-size="9.6" fill="#000" textLength="45" lengthAdjust="spacingAndGlyphs">4 Jul 12:00</text>
<text x="124" y="943" font-size="9.6" fill="#000" textLength="45" lengthAdjust="spacingAndGlyphs">5 Jul 04:00</text>
<text x="188" y="943" font-size="9.6" fill="#000" textLength="45" lengthAdjust="spacingAndGlyphs">5 Jul 20:00</text>
<text x="252" y="943" font-size="9.6" fill="#000" textLength="45" lengthAdjust="spacingAndGlyphs">8 Jul 08:00</text>
<text x="316" y="943" font-size="9.6" fill="#000" textLength="45" lengthAdjust="spacingAndGlyphs">9 Jul 00:00</text>
<text x="380" y="943" font-size="9.6" fill="#000" textLength="45" lengthAdjust="spacingAndGlyphs">9 Jul 16:00</text>
<text x="444" y="943" font-size="9.6" fill="#000" textLength="50" lengthAdjust="spacingAndGlyphs">10 Jul 08:00</text>
<text x="508" y="943" font-size="9.6" fill="#000" textLength="50" lengthAdjust="spacingAndGlyphs">11 Jul 00:00</text>
<text x="572" y="943" font-size="9.6" fill="#000" textLength="50" lengthAdjust="spacingAndGlyphs">11 Jul 16:00</text>
<text x="636" y="943" font-size="9.6" fill="#000" textLength="50" lengthAdjust="spacingAndGlyphs">12 Jul 08:00</text>
<text x="700" y="943" font-size="9.6" fill="#000" textLength="50" lengthAdjust="spacingAndGlyphs">14 Jul 23:00</text>
<text x="764" y="943" font-size="9.6" fill="#000" textLength="50" lengthAdjust="spacingAndGlyphs">15 Jul 12:00</text>
<text x="828" y="943" font-size="9.6" fill="#000" textLength="50" lengthAdjust="spacingAndGlyphs">16 Jul 04:00</text>
<text x="892" y="943" font-size="9.6" fill="#000" textLength="50" lengthAdjust="spacingAndGlyphs">16 Jul 20:00</text>
<text x="956" y="943" font-size="9.6" fill="#000" textLength="50" lengthAdjust="spacingAndGlyphs">17 Jul 12:00</text>
<text x="1020" y="943" font-size="9.6" fill="#000" textLength="50" lengthAdjust="spacingAndGlyphs">18 Jul 04:00</text>
<text x="1084" y="943" font-size="9.6" fill="#000" textLength="50" lengthAdjust="spacingAndGlyphs">18 Jul 20:00</text>
<text x="1148" y="943" font-size="9.6" fill="#000" textLength="50" lengthAdjust="spacingAndGlyphs">19 Jul 12:00</text>
<text x="1212" y="943" font-size="9.6" fill="#000" textLength="50" lengthAdjust="spacingAndGlyphs">22 Jul 00:00</text>
<text x="1276" y="943" font-size="9.6" fill="#000" textLength="50" lengthAdjust="spacingAndGlyphs">22 Jul 16:00</text>
<text x="1340" y="943" font-size="9.6" fill="#000" textLength="50" lengthAdjust="spacingAndGlyphs">23 Jul 08:00</text>
<text x="1404" y="943" font-size="9.6" fill="#000" textLength="50" lengthAdjust="spacingAndGlyphs">23 Jul 20:30</text>
<g shape-rendering="crispEdges">
<rect x="0" y="0" width="1672" height="26" fill="#f0f0f0"/>
<rect x="0" y="0" width="1672" height="1" fill="#fbfbfb"/>
<rect x="0" y="25" width="1672" height="1" fill="#f5f5f5"/>
<rect x="0" y="26" width="1672" height="1" fill="#b0b0b0"/>
<rect x="0" y="27" width="1672" height="1" fill="#646464"/>
<rect x="222" y="1" width="1" height="25" fill="#a0a0a0"/><rect x="223" y="1" width="1" height="25" fill="#ffffff"/>
<rect x="590" y="1" width="1" height="25" fill="#a0a0a0"/><rect x="591" y="1" width="1" height="25" fill="#ffffff"/>
<rect x="896" y="1" width="1" height="25" fill="#a0a0a0"/><rect x="897" y="1" width="1" height="25" fill="#ffffff"/>
<rect x="1157" y="1" width="1" height="25" fill="#a0a0a0"/><rect x="1158" y="1" width="1" height="25" fill="#ffffff"/>
<rect x="226" y="5" width="3" height="1" fill="#b8b8b8"/>
<rect x="226" y="7" width="3" height="1" fill="#b8b8b8"/>
<rect x="226" y="9" width="3" height="1" fill="#b8b8b8"/>
<rect x="226" y="11" width="3" height="1" fill="#b8b8b8"/>
<rect x="226" y="13" width="3" height="1" fill="#b8b8b8"/>
<rect x="226" y="15" width="3" height="1" fill="#b8b8b8"/>
<rect x="226" y="17" width="3" height="1" fill="#b8b8b8"/>
<rect x="226" y="19" width="3" height="1" fill="#b8b8b8"/>
<rect x="226" y="21" width="3" height="1" fill="#b8b8b8"/>
<rect x="226" y="23" width="3" height="1" fill="#b8b8b8"/>
<rect x="595" y="5" width="3" height="1" fill="#b8b8b8"/>
<rect x="595" y="7" width="3" height="1" fill="#b8b8b8"/>
<rect x="595" y="9" width="3" height="1" fill="#b8b8b8"/>
<rect x="595" y="11" width="3" height="1" fill="#b8b8b8"/>
<rect x="595" y="13" width="3" height="1" fill="#b8b8b8"/>
<rect x="595" y="15" width="3" height="1" fill="#b8b8b8"/>
<rect x="595" y="17" width="3" height="1" fill="#b8b8b8"/>
<rect x="595" y="19" width="3" height="1" fill="#b8b8b8"/>
<rect x="595" y="21" width="3" height="1" fill="#b8b8b8"/>
<rect x="595" y="23" width="3" height="1" fill="#b8b8b8"/>
<rect x="901" y="5" width="3" height="1" fill="#b8b8b8"/>
<rect x="901" y="7" width="3" height="1" fill="#b8b8b8"/>
<rect x="901" y="9" width="3" height="1" fill="#b8b8b8"/>
<rect x="901" y="11" width="3" height="1" fill="#b8b8b8"/>
<rect x="901" y="13" width="3" height="1" fill="#b8b8b8"/>
<rect x="901" y="15" width="3" height="1" fill="#b8b8b8"/>
<rect x="901" y="17" width="3" height="1" fill="#b8b8b8"/>
<rect x="901" y="19" width="3" height="1" fill="#b8b8b8"/>
<rect x="901" y="21" width="3" height="1" fill="#b8b8b8"/>
<rect x="901" y="23" width="3" height="1" fill="#b8b8b8"/>
<rect x="317" y="3" width="1" height="21" fill="#a8a8a8"/>
<rect x="407" y="3" width="1" height="21" fill="#a8a8a8"/>
<rect x="469" y="3" width="1" height="21" fill="#a8a8a8"/>
<rect x="657" y="3" width="1" height="21" fill="#a8a8a8"/>
<rect x="260" y="2" width="25" height="22" fill="#f8f8f8"/>
<rect x="260" y="2" width="25" height="1" fill="#909090"/><rect x="260" y="2" width="1" height="22" fill="#909090"/>
<rect x="260" y="24" width="26" height="1" fill="#ffffff"/><rect x="285" y="2" width="1" height="23" fill="#ffffff"/>
<rect x="412" y="2" width="24" height="22" fill="#f8f8f8"/>
<rect x="412" y="2" width="24" height="1" fill="#909090"/><rect x="412" y="2" width="1" height="22" fill="#909090"/>
<rect x="412" y="24" width="25" height="1" fill="#ffffff"/><rect x="436" y="2" width="1" height="23" fill="#ffffff"/>
<rect x="440" y="2" width="25" height="22" fill="#f8f8f8"/>
<rect x="440" y="2" width="25" height="1" fill="#909090"/><rect x="440" y="2" width="1" height="22" fill="#909090"/>
<rect x="440" y="24" width="26" height="1" fill="#ffffff"/><rect x="465" y="2" width="1" height="23" fill="#ffffff"/>
<rect x="600" y="2" width="25" height="22" fill="#f8f8f8"/>
<rect x="600" y="2" width="25" height="1" fill="#909090"/><rect x="600" y="2" width="1" height="22" fill="#909090"/>
<rect x="600" y="24" width="26" height="1" fill="#ffffff"/><rect x="625" y="2" width="1" height="23" fill="#ffffff"/>
<rect x="1046" y="2" width="25" height="22" fill="#f8f8f8"/>
<rect x="1046" y="2" width="25" height="1" fill="#909090"/><rect x="1046" y="2" width="1" height="22" fill="#909090"/>
<rect x="1046" y="24" width="26" height="1" fill="#ffffff"/><rect x="1071" y="2" width="1" height="23" fill="#ffffff"/>
</g>
<rect x="0.5" y="5.5" width="7" height="10" fill="#fff" stroke="#888"/>
<path d="M1 9h5M1 11.5h5" stroke="#777" stroke-width="1"/>
<path d="M4.5 12h3v3.5h3.5v3h-3.5v3.5h-3v-3.5h-4.5v-3h4.5z" fill="#22cc22" stroke="#0a8a0a" stroke-width="0.8"/>
<path d="M68.7 7.3 L78 13.3 L78.7 16.4 L70.9 21.7 L63.3 15.8 L67 11.5 Z" fill="#e2b020" stroke="#9a6410" stroke-width="0.9" stroke-linejoin="round"/>
<path d="M69 8.5 L77 13.6 L70.5 18.5 L65.5 15 Z" fill="#f4cc38"/>
<path d="M64.5 16.2 L70.8 20.6 L77.8 16" fill="none" stroke="#f0e0a0" stroke-width="1.1"/>
<rect x="93" y="6.5" width="11" height="10" fill="#1a90f0" stroke="#0a70d0" stroke-width="0.6"/>
<path d="M93.5 7 L96.5 9.5 V16" stroke="#c8e8ff" stroke-width="0.9" fill="none"/><path d="M98 11h5" stroke="#e0f0ff" stroke-width="1.2"/>
<path d="M92.5 21.5 q-2 -4 2.5 -4.5 q0.5 -3 4 -2.5 q2 -2.5 5 -0.5 q3.5 0 3 4 q1.5 1.8 -0.5 3.5 z" fill="#f2f4fa" stroke="#4060a0" stroke-width="1"/>
<g fill="none" stroke-width="1"><circle cx="127" cy="13.5" r="2.5" stroke="#3060d0"/><circle cx="127" cy="13.5" r="5" stroke="#6090d8"/><circle cx="127" cy="13.5" r="7.5" stroke="#90b0e0"/></g>
<path d="M127 13.5 A7.5 7.5 0 0 1 127 21" fill="none" stroke="#40a040" stroke-width="2"/>
<path d="M127 13.5V21.5" stroke="#20a020" stroke-width="1.6"/>
<circle cx="127" cy="13.5" r="1.6" fill="#2050c0"/>
<path d="M148 13 L160 13 L156 21 L152 21 Z" fill="#f0d040" stroke="#c0a020" stroke-width="0.8"/>
<ellipse cx="154" cy="10.5" rx="8" ry="3" fill="#5aaee0" stroke="#2a7ab0" stroke-width="0.8"/>
<ellipse cx="154" cy="8.5" rx="4" ry="3" fill="#7cc4ee" stroke="#2a7ab0" stroke-width="0.8"/>
<circle cx="158.5" cy="18.3" r="4" fill="#d02010"/><rect x="157" y="16.8" width="3" height="3" fill="#fff"/>
<g fill="none" stroke="#555" stroke-width="1.2"><path d="M240.5 8.5V22.0"/><path d="M238.0 19.5H251.5"/></g><path d="M240.5 7.5l-2 2.5h4z" fill="#555"/><path d="M253.5 19.5l-2.5 -2v4z" fill="#555"/>
<path d="M246.5 9V18M244 16.5h2.5M246.5 10.5h2.5" stroke="#109010" stroke-width="1.3" fill="none"/>
<g fill="none" stroke="#555" stroke-width="1.2"><path d="M268.5 8.5V22.0"/><path d="M266.0 19.5H279.5"/></g><path d="M268.5 7.5l-2 2.5h4z" fill="#555"/><path d="M281.5 19.5l-2.5 -2v4z" fill="#555"/>
<path d="M274.5 6V19" stroke="#109010" stroke-width="1.3"/><rect x="272.5" y="8.5" width="4" height="7.5" fill="#40e040" stroke="#109010" stroke-width="1"/>
<g fill="none" stroke="#555" stroke-width="1.2"><path d="M296.5 8.5V22.0"/><path d="M294.0 19.5H307.5"/></g><path d="M296.5 7.5l-2 2.5h4z" fill="#555"/><path d="M309.5 19.5l-2.5 -2v4z" fill="#555"/>
<path d="M295 16.5 Q300 9 303 11.5 T307 15" fill="none" stroke="#30a030" stroke-width="1.3"/>
<path d="M336.5 15.5 L341.0 20.5" stroke="#c8a020" stroke-width="3" stroke-linecap="square"/>
<circle cx="332" cy="11.5" r="5.5" fill="#dff2ff" stroke="#2a78c8" stroke-width="1.2"/>
<path d="M332 8.5V14.5M329 11.5H335" stroke="#3a80b0" stroke-width="1.8"/>
<path d="M364.5 15.5 L369.0 20.5" stroke="#c8a020" stroke-width="3" stroke-linecap="square"/>
<circle cx="360" cy="11.5" r="5.5" fill="#dff2ff" stroke="#2a78c8" stroke-width="1.2"/>
<path d="M357 11.5H363" stroke="#3a80b0" stroke-width="1.8"/>
<rect x="382" y="6" width="8" height="8" rx="1" fill="#3a9a20"/><rect x="383" y="9" width="6" height="4" fill="#fff"/>
<rect x="390" y="6" width="8" height="8" rx="1" fill="#1a50d0"/><rect x="391" y="9" width="6" height="4" fill="#fff"/>
<rect x="382" y="14" width="8" height="8" rx="1" fill="#1a50d0"/><rect x="383" y="17" width="6" height="4" fill="#fff"/>
<rect x="390" y="14" width="8" height="8" rx="1" fill="#3a9a20"/><rect x="391" y="17" width="6" height="4" fill="#fff"/>
<g fill="none" stroke="#555" stroke-width="1.2"><path d="M420.0 8.5V22.0"/><path d="M417.5 19.5H431.0"/></g><path d="M420.0 7.5l-2 2.5h4z" fill="#555"/><path d="M433.0 19.5l-2.5 -2v4z" fill="#555"/>
<path d="M425.5 10.5 L429.5 13.5 L425.5 16.5 Z" fill="#60d060" stroke="#109010" stroke-width="1"/>
<g fill="none" stroke="#555" stroke-width="1.2"><path d="M448.0 8.5V22.0"/><path d="M445.5 19.5H459.0"/></g><path d="M448.0 7.5l-2 2.5h4z" fill="#555"/><path d="M461.0 19.5l-2.5 -2v4z" fill="#555"/>
<path d="M454 8V17.5" stroke="#1a6ab0" stroke-width="1.3"/><path d="M455 13.5 L458 11 L458 12.8 L460 12.8 L460 14.2 L458 14.2 L458 16 Z" fill="#e05010"/>
<path d="M479.5 6.5h6l2.5 2.5v9h-8.5z" fill="#fff" stroke="#888"/>
<path d="M484.5 12h3v3.5h3.5v3h-3.5v3.5h-3v-3.5h-3.5v-3h3.5z" fill="#22cc22" stroke="#0a8a0a" stroke-width="0.8"/>
<circle cx="525" cy="13.5" r="7.5" fill="#1e6ad0"/><circle cx="525" cy="13.5" r="5.5" fill="#fff"/>
<path d="M525 10V13.5H527.5" stroke="#333" stroke-width="1" fill="none"/>
<rect x="556.5" y="7.5" width="15" height="13" fill="#fff" stroke="#3a6ab0"/><rect x="557" y="8" width="14" height="2" fill="#5a8ad0"/>
<path d="M558 13.5l3-1 3 1 3-1.5 3 .5" stroke="#b02020" fill="none" stroke-width="1"/><path d="M558 17.5l3-1.5 3 1 3-1.5 3 1" stroke="#20a020" fill="none" stroke-width="1"/>
<path d="M501.0 13h5l-2.5 3z" fill="#000"/>
<path d="M539.8 13h5l-2.5 3z" fill="#000"/>
<path d="M579.1 13h5l-2.5 3z" fill="#000"/>
<path d="M884.7 13h5l-2.5 3z" fill="#000"/>
<path d="M608.5 7 L608.5 19 L611 16.5 L613.5 21 L615 20.3 L612.7 15.8 L616 15.5 Z" fill="#333"/>
<path d="M640.5 7V22M633 14.5H648" stroke="#444" stroke-width="1"/>
<path d="M674.5 8V21" stroke="#444" stroke-width="1.2"/>
<path d="M697 14.5H709" stroke="#444" stroke-width="1.2"/>
<path d="M725 21L737 9" stroke="#444" stroke-width="1.2"/>
<path d="M751 17L764 10M752.5 21L765.5 14M755 19.5V11.5M758.5 17.5V9.5M762 15.5V7" stroke="#444" stroke-width="1.1" fill="none"/>
<text x="762" y="23" font-size="8.5" fill="#444">E</text>
<path d="M780 7.5h14M780 10.5h14M780 14.5h14M780 18.5h10" stroke="#555" stroke-width="1" stroke-dasharray="1 1" fill="none" shape-rendering="crispEdges"/>
<text x="790" y="23" font-size="8.5" fill="#444">F</text>
<text x="810.5" y="19" font-size="12.5" fill="#555" stroke="#555" stroke-width="0.3">A</text>
<rect x="836.5" y="8.5" width="12" height="12" fill="none" stroke="#555" stroke-dasharray="1 1" shape-rendering="crispEdges"/>
<text x="838.6" y="18.6" font-size="11.5" fill="#555" stroke="#555" stroke-width="0.4">T</text>
<path d="M867.3 7l2.6 2.6-2.6 2.6-2.6-2.6z M874.4 16.1l2.6 2.6-2.6 2.6-2.6-2.6z" fill="#444"/><path d="M866.5 13.5l2.5 2.5 4.5-4.5" stroke="#444" stroke-width="1.3" fill="none"/>
<circle cx="1627.4" cy="11.3" r="3.9" fill="#fafaff" stroke="#2060d8" stroke-width="1.2"/><path d="M1624.6 14.2L1620.8 18" stroke="#2050c8" stroke-width="2.4" stroke-linecap="round"/>
<path d="M1663 15 l1 3 l-3 -2.5z" fill="#666"/><ellipse cx="1660.1" cy="10.8" rx="6.4" ry="4.4" fill="#f8f8fc" stroke="#8a8a8a" stroke-width="0.9"/>
<path d="M1650 18 l-1.3 2.8 l3.3 -2.3z" fill="#666"/><ellipse cx="1651.3" cy="14.9" rx="5.2" ry="3.7" fill="#f8f8fc" stroke="#8a8a8a" stroke-width="0.9"/>
<text x="15" y="17" font-size="12.5" fill="#000" textLength="36" lengthAdjust="spacingAndGlyphs" style="font-family:'Liberation Sans','Noto Sans CJK SC',sans-serif">新订单</text>
<text x="167.5" y="17" font-size="12.5" fill="#000" textLength="47" lengthAdjust="spacingAndGlyphs" style="font-family:'Liberation Sans','Noto Sans CJK SC',sans-serif">自动交易</text>
<text x="911" y="18" font-size="10.5" fill="#404040">M1</text>
<text x="939" y="18" font-size="10.5" fill="#404040">M5</text>
<text x="965" y="18" font-size="10.5" fill="#404040">M15</text>
<text x="993" y="18" font-size="10.5" fill="#404040">M30</text>
<text x="1024" y="18" font-size="10.5" fill="#404040">H1</text>
<text x="1051" y="18" font-size="10.5" fill="#404040">H4</text>
<text x="1080" y="18" font-size="10.5" fill="#404040">D1</text>
<text x="1107" y="18" font-size="10.5" fill="#404040">W1</text>
<text x="1134" y="18" font-size="10.5" fill="#404040">MN</text>
</svg>
</body></html>
